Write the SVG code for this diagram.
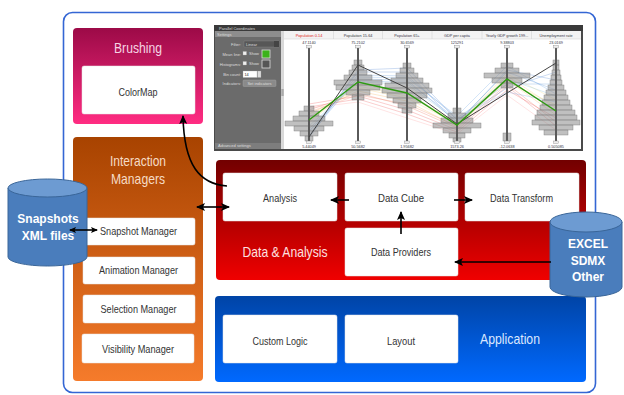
<svg xmlns="http://www.w3.org/2000/svg" width="624" height="395" viewBox="0 0 624 395">
<defs>
<linearGradient id="gPink" x1="0" y1="0" x2="0" y2="1"><stop offset="0" stop-color="#9c0a47"/><stop offset="1" stop-color="#ff2c82"/></linearGradient>
<linearGradient id="gOrange" x1="0" y1="0" x2="0" y2="1"><stop offset="0" stop-color="#a84300"/><stop offset="1" stop-color="#f57b2b"/></linearGradient>
<linearGradient id="gRed" x1="0" y1="0" x2="0" y2="1"><stop offset="0" stop-color="#720000"/><stop offset="1" stop-color="#f00000"/></linearGradient>
<linearGradient id="gBlue" x1="0" y1="0" x2="0" y2="1"><stop offset="0" stop-color="#0044a6"/><stop offset="1" stop-color="#0069ff"/></linearGradient>
<marker id="ah" markerUnits="userSpaceOnUse" markerWidth="9" markerHeight="8" refX="8" refY="4" orient="auto-start-reverse"><path d="M0,0 L9,4 L0,8 L2,4 z" fill="#000"/></marker>
<marker id="ahs" markerUnits="userSpaceOnUse" markerWidth="7" markerHeight="6" refX="6" refY="3" orient="auto-start-reverse"><path d="M0,0 L7,3 L0,6 L1.5,3 z" fill="#000"/></marker>
</defs>
<style>
.lbl{font-family:"Liberation Sans",Arial,sans-serif;font-size:10.5px;fill:#333;text-anchor:middle}
.head{font-family:"Liberation Sans",Arial,sans-serif;font-size:15px;text-anchor:middle}
.cyl{font-family:"Liberation Sans",Arial,sans-serif;font-size:12px;font-weight:bold;fill:#fff;text-anchor:middle}
.wb{fill:#fff;stroke:#e6e6e6;stroke-width:0.5}
.con{fill:none;stroke:#000;stroke-width:1.6}
.tiny{font-family:"Liberation Sans",Arial,sans-serif;font-size:3.8px;fill:#222}
.val{font-family:"Liberation Sans",Arial,sans-serif;font-size:3.8px;fill:#334;text-anchor:middle}
.tw{font-family:"Liberation Sans",Arial,sans-serif;font-size:4px;fill:#ddd}
.axis{stroke:#5a5a5a;stroke-width:2}
.hist rect{fill:#8c8c8c;fill-opacity:0.55;stroke:#777;stroke-width:0.4}
.pl{fill:none;stroke-width:0.6;stroke-opacity:0.4}
</style>

<rect id="frame" x="63.5" y="12.5" width="532" height="380" rx="9" fill="#fff" stroke="#3466d4" stroke-width="1.6"/>

<g id="brushing">
<rect x="73" y="28" width="130" height="96" rx="4" fill="url(#gPink)"/>
<text class="head" x="138" y="53" fill="#f6d4e3" textLength="48" lengthAdjust="spacingAndGlyphs">Brushing</text>
<g id="colormap"><rect class="wb" x="82" y="66" width="113" height="48" rx="2"/>
<text class="lbl" x="138" y="96" textLength="39" lengthAdjust="spacingAndGlyphs">ColorMap</text></g>
</g>

<g id="parallel-coordinates">
<rect x="214" y="25" width="369" height="126" fill="#4a4a4a"/>
<rect x="214" y="25" width="369" height="6" fill="#3a3a3a"/>
<text class="tw" x="219" y="29.8">Parallel Coordinates</text>
<rect x="215" y="31" width="66" height="118" fill="#6b6b6b"/>
<rect x="215" y="31" width="66" height="6" fill="#8d8d8d"/>
<text class="tw" x="217" y="35.5">Settings</text>
<text class="tw" x="241" y="45.5" text-anchor="end">Filter:</text>
<text class="tw" x="241" y="55.5" text-anchor="end">Mean line:</text>
<text class="tw" x="241" y="65.5" text-anchor="end">Histograms:</text>
<text class="tw" x="241" y="75.5" text-anchor="end">Bin count:</text>
<text class="tw" x="241" y="84.5" text-anchor="end">Indicators:</text>
<rect x="244" y="41" width="35" height="6" fill="#575757" stroke="#888" stroke-width="0.4"/>
<text class="tw" x="246" y="45.5">Linear</text>
<rect x="274" y="41" width="5" height="6" fill="#444"/>
<rect x="243" y="51.5" width="3.5" height="3.5" fill="#eee" stroke="#aaa" stroke-width="0.3"/>
<text class="tw" x="249" y="55.3">Show</text>
<rect x="262" y="50" width="8" height="8" fill="#3bb31b" stroke="#ddd" stroke-width="0.8"/>
<rect x="243" y="61.5" width="3.5" height="3.5" fill="#eee" stroke="#aaa" stroke-width="0.3"/>
<text class="tw" x="249" y="65.3">Show</text>
<rect x="262" y="60" width="8" height="8" fill="#555" stroke="#ddd" stroke-width="0.8"/>
<rect x="243" y="71" width="14" height="6.5" fill="#fff" stroke="#aaa" stroke-width="0.3"/>
<text class="tiny" x="244.5" y="75.8">14</text>
<rect x="257.5" y="71" width="3.5" height="6.5" fill="#ddd" stroke="#999" stroke-width="0.3"/>
<rect x="243" y="80" width="33" height="6.5" rx="1" fill="#8a8a8a" stroke="#aaa" stroke-width="0.4"/>
<text class="tw" x="259.5" y="84.6" text-anchor="middle">Set indicators</text>
<rect x="215" y="143" width="66" height="6" fill="#7d7d7d"/>
<text class="tw" x="218" y="147.3">Advanced settings</text>
<rect x="281" y="31" width="3" height="118" fill="#d9d9d9"/>
<rect x="281.3" y="89" width="2.4" height="7" fill="#aaa"/>
<rect x="284" y="31" width="297" height="118" fill="#fff"/>
<rect x="284" y="31" width="297" height="8" fill="#f3f3f3"/>
<g stroke="#ccc" stroke-width="0.5">
<line x1="333.5" y1="31" x2="333.5" y2="39"/><line x1="382.5" y1="31" x2="382.5" y2="39"/><line x1="432" y1="31" x2="432" y2="39"/><line x1="482" y1="31" x2="482" y2="39"/><line x1="531.5" y1="31" x2="531.5" y2="39"/>
<line x1="284" y1="39" x2="581" y2="39"/>
</g>
<text class="val" x="309" y="36.5" style="fill:#e02020">Population 0-14</text>
<text class="val" x="358" y="36.5">Population 15-64</text>
<text class="val" x="407" y="36.5">Population 65+</text>
<text class="val" x="457" y="36.5">GDP per capita</text>
<text class="val" x="507" y="36.5">Yearly GDP growth 199...</text>
<text class="val" x="556" y="36.5">Unemployment rate</text>
<text class="val" x="309" y="44">47.1140</text>
<text class="val" x="358" y="44">75.2102</text>
<text class="val" x="407" y="44">30.6569</text>
<text class="val" x="457" y="44">125291</text>
<text class="val" x="507" y="44">9.38803</text>
<text class="val" x="556" y="44">23.0169</text>
<text class="val" x="309" y="147.5">5.44049</text>
<text class="val" x="358" y="147.5">50.5682</text>
<text class="val" x="407" y="147.5">1.95682</text>
<text class="val" x="457" y="147.5">1573.26</text>
<text class="val" x="507" y="147.5">-12.0638</text>
<text class="val" x="556" y="147.5">0.505085</text>
<g class="pl">
<polyline stroke="#e83030" points="309,104 358,96 407,110 457,130 507,86 556,126"/>
<polyline stroke="#e83030" points="309,107 358,99 407,114 457,132 507,90 556,118"/>
<polyline stroke="#e84a30" points="309,110 358,93 407,106 457,128 507,84 556,122"/>
<polyline stroke="#f06a40" points="309,112 358,95 407,104 457,126 507,78 556,112"/>
<polyline stroke="#f5a030" points="309,114 358,91 407,101 457,127 507,80 556,115"/>
<polyline stroke="#f5c040" points="309,117 358,88 407,98 457,124 507,76 556,108"/>
<polyline stroke="#e8d050" points="309,120 358,86 407,96 457,122 507,82 556,105"/>
<polyline stroke="#f0d060" points="309,122 358,84 407,93 457,123 507,74 556,100"/>
<polyline stroke="#60b0d8" points="309,126 358,82 407,84 457,121 507,79 556,96"/>
<polyline stroke="#3a80d0" points="309,129 358,79 407,80 457,122 507,72 556,90"/>
<polyline stroke="#3a80d0" points="309,132 358,75 407,76 457,118 507,84 556,84"/>
<polyline stroke="#2a6ac8" points="309,135 358,72 407,72 457,124 507,70 556,80"/>
<polyline stroke="#2a6ac8" points="309,138 358,70 407,68 457,120 507,88 556,72"/>
<polyline stroke="#4a90e0" points="309,136 358,77 407,78 457,116 507,66 556,94"/>
<polyline stroke="#4a90e0" points="309,131 358,81 407,82 457,119 507,92 556,102"/>
<polyline stroke="#ff8c8c" points="309,108 358,102 407,118 457,134 507,95 556,130"/>
</g>
<g class="hist">
<rect x="304" y="106" width="10" height="5"/><rect x="299" y="111" width="20" height="5"/><rect x="293" y="116" width="32" height="5"/><rect x="285" y="121" width="48" height="5"/><rect x="294" y="126" width="30" height="5"/><rect x="300" y="131" width="18" height="5"/><rect x="305" y="136" width="8" height="5"/>
<rect x="354" y="60" width="8" height="5"/><rect x="352" y="65" width="12" height="5"/><rect x="349" y="70" width="18" height="5"/><rect x="344" y="75" width="28" height="5"/><rect x="334" y="80" width="48" height="5"/><rect x="336" y="85" width="44" height="5"/><rect x="346" y="90" width="24" height="5"/><rect x="352" y="95" width="12" height="5"/>
<rect x="403" y="63" width="8" height="5"/><rect x="400" y="68" width="14" height="5"/><rect x="396" y="73" width="22" height="5"/><rect x="391" y="78" width="32" height="5"/><rect x="385" y="83" width="44" height="5"/><rect x="382" y="88" width="50" height="5"/><rect x="387" y="93" width="40" height="5"/><rect x="393" y="98" width="28" height="5"/><rect x="398" y="103" width="18" height="5"/><rect x="402" y="108" width="10" height="5"/>
<rect x="453" y="108" width="8" height="5"/><rect x="448" y="113" width="18" height="5"/><rect x="441" y="118" width="32" height="5"/><rect x="433" y="123" width="48" height="5"/><rect x="443" y="128" width="28" height="5"/><rect x="449" y="133" width="16" height="5"/><rect x="453" y="138" width="8" height="4"/>
<rect x="501" y="63" width="12" height="5"/><rect x="495" y="68" width="24" height="5"/><rect x="484" y="73" width="46" height="5"/><rect x="492" y="78" width="30" height="5"/><rect x="501" y="83" width="12" height="5"/>
<rect x="503" y="133" width="8" height="8"/>
<rect x="553" y="60" width="6" height="5"/><rect x="553" y="65" width="6" height="5"/><rect x="552" y="70" width="8" height="5"/><rect x="551" y="75" width="10" height="5"/><rect x="550" y="80" width="12" height="5"/><rect x="548" y="85" width="16" height="5"/><rect x="546" y="90" width="20" height="5"/><rect x="544" y="95" width="24" height="5"/><rect x="542" y="100" width="28" height="5"/><rect x="540" y="105" width="32" height="5"/><rect x="537" y="110" width="38" height="5"/><rect x="535" y="115" width="42" height="5"/><rect x="532" y="120" width="48" height="5"/><rect x="539" y="125" width="34" height="5"/><rect x="544" y="130" width="24" height="5"/>
</g>
<g class="axis">
<line x1="309" y1="47" x2="309" y2="142"/><line x1="358" y1="47" x2="358" y2="142"/><line x1="407" y1="47" x2="407" y2="142"/><line x1="457" y1="47" x2="457" y2="142"/><line x1="507" y1="47" x2="507" y2="142"/><line x1="556" y1="47" x2="556" y2="142"/>
</g>
<g fill="#eee" stroke="#888" stroke-width="0.4">
<rect x="306.5" y="45.5" width="5" height="2.5"/><rect x="355.5" y="45.5" width="5" height="2.5"/><rect x="404.5" y="45.5" width="5" height="2.5"/><rect x="454.5" y="45.5" width="5" height="2.5"/><rect x="504.5" y="45.5" width="5" height="2.5"/><rect x="553.5" y="45.5" width="5" height="2.5"/>
<rect x="306.5" y="141" width="5" height="2.5"/><rect x="355.5" y="141" width="5" height="2.5"/><rect x="404.5" y="141" width="5" height="2.5"/><rect x="454.5" y="141" width="5" height="2.5"/><rect x="504.5" y="141" width="5" height="2.5"/><rect x="553.5" y="141" width="5" height="2.5"/>
</g>
<polyline fill="none" stroke="#444" stroke-width="1" points="309,137 358,65 407,88 457,124 507,93 556,63"/>
<polyline fill="none" stroke="#2e9a12" stroke-width="1.4" points="309,120 358,82 407,93 457,125 507,79 556,111"/>
</g>

<g id="interaction-managers">
<rect x="73" y="137" width="130" height="244" rx="4" fill="url(#gOrange)"/>
<text class="head" x="138" y="166" fill="#f6dcc6" textLength="56" lengthAdjust="spacingAndGlyphs">Interaction</text>
<text class="head" x="138" y="184" fill="#f6dcc6" textLength="54" lengthAdjust="spacingAndGlyphs">Managers</text>
</g>
<g id="snapshot-manager"><rect class="wb" x="83" y="218" width="112" height="27" rx="2"/>
<text class="lbl" x="138.5" y="235" textLength="77" lengthAdjust="spacingAndGlyphs">Snapshot Manager</text></g>
<g id="animation-manager"><rect class="wb" x="83" y="257" width="112" height="27" rx="2"/>
<text class="lbl" x="138.5" y="274" textLength="79" lengthAdjust="spacingAndGlyphs">Animation Manager</text></g>
<g id="selection-manager"><rect class="wb" x="83" y="295" width="112" height="28" rx="2"/>
<text class="lbl" x="138.5" y="313" textLength="76" lengthAdjust="spacingAndGlyphs">Selection Manager</text></g>
<g id="visibility-manager"><rect class="wb" x="82" y="334" width="112" height="29" rx="2"/>
<text class="lbl" x="138" y="353" textLength="72" lengthAdjust="spacingAndGlyphs">Visibility Manager</text></g>

<g id="data-analysis">
<rect x="216" y="160" width="370" height="120" rx="4" fill="url(#gRed)"/>
<text class="head" x="285" y="257" fill="#fde0e0" textLength="85" lengthAdjust="spacingAndGlyphs">Data &amp; Analysis</text>
</g>
<g id="analysis"><rect class="wb" x="223" y="173" width="114" height="48" rx="2"/>
<text class="lbl" x="280" y="202" textLength="34" lengthAdjust="spacingAndGlyphs">Analysis</text></g>
<g id="data-cube"><rect class="wb" x="345" y="173" width="113" height="48" rx="2"/>
<text class="lbl" x="401" y="202" textLength="46" lengthAdjust="spacingAndGlyphs">Data Cube</text></g>
<g id="data-transform"><rect class="wb" x="465" y="173" width="114" height="48" rx="2"/>
<text class="lbl" x="521.5" y="202" textLength="63" lengthAdjust="spacingAndGlyphs">Data Transform</text></g>
<g id="data-providers"><rect class="wb" x="345" y="228" width="113" height="48" rx="2"/>
<text class="lbl" x="401" y="256" textLength="60" lengthAdjust="spacingAndGlyphs">Data Providers</text></g>

<g id="application">
<rect x="215" y="296" width="371" height="86" rx="4" fill="url(#gBlue)"/>
<text class="head" x="510" y="344" fill="#dce8ff" textLength="60" lengthAdjust="spacingAndGlyphs">Application</text>
</g>
<g id="custom-logic"><rect class="wb" x="223" y="315" width="114" height="48" rx="2"/>
<text class="lbl" x="280" y="345" textLength="55" lengthAdjust="spacingAndGlyphs">Custom Logic</text></g>
<g id="layout"><rect class="wb" x="345" y="315" width="113" height="48" rx="2"/>
<text class="lbl" x="401" y="345" textLength="28" lengthAdjust="spacingAndGlyphs">Layout</text></g>

<g id="snapshots-xml">
<path d="M8,188 L8,257 A39.5,9 0 0 0 87,257 L87,188" fill="#4a7dbc" stroke="#3a6699" stroke-width="1"/>
<ellipse cx="47.5" cy="188" rx="39.5" ry="9" fill="#6d9bd2" stroke="#3a6699" stroke-width="1"/>
<text class="cyl" x="48" y="223">Snapshots</text>
<text class="cyl" x="48" y="240">XML files</text>
</g>

<g id="excel-sdmx">
<path d="M550,222 L550,287 A36,10 0 0 0 622,287 L622,222" fill="#4a7dbc" stroke="#3a6699" stroke-width="1"/>
<ellipse cx="586" cy="222" rx="36" ry="10" fill="#6d9bd2" stroke="#3a6699" stroke-width="1"/>
<text class="cyl" x="588" y="248">EXCEL</text>
<text class="cyl" x="588" y="265">SDMX</text>
<text class="cyl" x="588" y="281">Other</text>
</g>

<g id="connectors">
<line class="con" x1="70" y1="230" x2="97" y2="230" stroke-width="1.2" marker-start="url(#ahs)" marker-end="url(#ahs)"/>
<line class="con" x1="197" y1="207" x2="229" y2="207" marker-start="url(#ah)" marker-end="url(#ah)"/>
<path class="con" d="M227,186 C200,184 184,166 183,116" marker-end="url(#ah)"/>
<line class="con" x1="349" y1="200" x2="331" y2="200" marker-end="url(#ah)"/>
<line class="con" x1="454" y1="200" x2="472" y2="200" marker-end="url(#ah)"/>
<line class="con" x1="401" y1="234" x2="401" y2="212" marker-end="url(#ah)"/>
<line class="con" x1="551" y1="262" x2="455" y2="262" marker-end="url(#ah)"/>
</g>
</svg>
